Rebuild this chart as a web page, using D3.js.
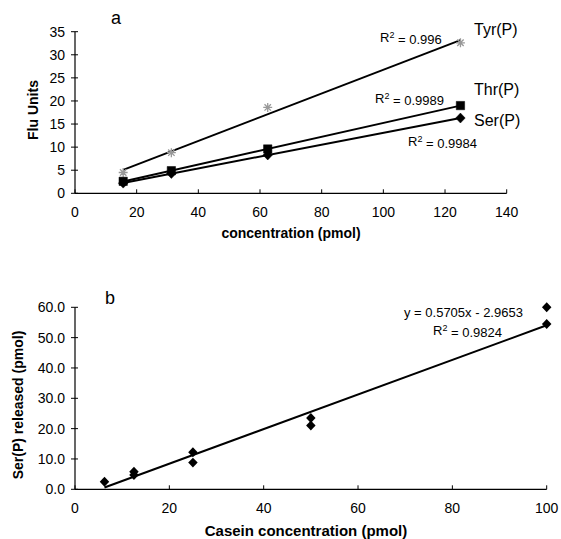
<!DOCTYPE html>
<html><head><meta charset="utf-8">
<script src="https://cdn.jsdelivr.net/npm/d3@7"></script>
<style>body{margin:0;background:#fff}svg{display:block;font-family:"Liberation Sans",Arial,sans-serif}</style>
</head><body><svg id="c" width="561" height="539"></svg>
<script>
// ---- Panel a data ----
const concA = [15.625, 31.25, 62.5, 125];
const tyrP = [4.5, 8.8, 18.6, 32.6];
const thrP = [2.6, 4.9, 9.6, 19.0];
const serP = [2.2, 4.3, 8.3, 16.3];
const xTicksA = [0, 20, 40, 60, 80, 100, 120, 140];
const yTicksA = [0, 5, 10, 15, 20, 25, 30, 35];
// ---- Panel b data ----
const caseinX = [6.25, 12.5, 12.5, 25, 25, 50, 50, 100, 100];
const serReleased = [2.5, 5.8, 4.7, 12.2, 8.8, 23.5, 21.0, 60.0, 54.5];
const fitB = [0.5705, -2.9653];
const xTicksB = [0, 20, 40, 60, 80, 100];
const yTicksB = [0, 10, 20, 30, 40, 50, 60];

const svg = d3.select("#c");

function linreg(xs, ys){
  const mx = d3.mean(xs), my = d3.mean(ys);
  let sxy = 0, sxx = 0;
  xs.forEach((x,i)=>{sxy += (x-mx)*(ys[i]-my); sxx += (x-mx)*(x-mx);});
  const m = sxy/sxx; return [m, my - m*mx];
}

// wide diamond symbol
const diamondW = {draw(ctx, size){ const r = Math.sqrt(size)/2; ctx.moveTo(0,-r*1.05); ctx.lineTo(r,0); ctx.lineTo(0,r*1.05); ctx.lineTo(-r,0); ctx.closePath(); }};
// asterisk symbol (stroke only)
const asterisk = {draw(ctx, size){ const r = Math.sqrt(size)/2; const d = r*0.72;
  ctx.moveTo(-r,0); ctx.lineTo(r,0); ctx.moveTo(0,-r); ctx.lineTo(0,r);
  ctx.moveTo(-d,-d); ctx.lineTo(d,d); ctx.moveTo(-d,d); ctx.lineTo(d,-d); }};

function axes(g, x, y, xt, yt, yfmt){
  const [x0,x1] = x.range(), [y0,y1] = y.range();
  g.append("line").attr("x1",x0).attr("x2",x1).attr("y1",y0).attr("y2",y0).attr("stroke","#000").attr("stroke-width",1.2);
  g.selectAll(null).data(xt).join("line").attr("x1",d=>x(d)).attr("x2",d=>x(d)).attr("y1",y0).attr("y2",y0-4).attr("stroke","#000");
  g.selectAll(null).data(xt).join("text").attr("x",d=>x(d)).attr("y",y0+24).attr("text-anchor","middle")
    .attr("font-size",14).text(d=>d);
  g.append("line").attr("x1",x0).attr("x2",x0).attr("y1",y0).attr("y2",y1).attr("stroke","#000").attr("stroke-width",1.2);
  g.selectAll(null).data(yt).join("line").attr("x1",x0-4).attr("x2",x0+3).attr("y1",d=>y(d)).attr("y2",d=>y(d)).attr("stroke","#000");
  g.selectAll(null).data(yt).join("text").attr("x",x0-10).attr("y",d=>y(d)).attr("dy","0.35em").attr("text-anchor","end")
    .attr("font-size",14).text(yfmt);
}

// ---- Panel a ----
const xa = d3.scaleLinear().domain([0,140]).range([75, 506.7]);
const ya = d3.scaleLinear().domain([0,35]).range([193.3, 31.7]);
const ga = svg.append("g");
axes(ga, xa, ya, xTicksA, yTicksA, d=>d);

const seriesA = [
  {name:"Tyr(P)", v:tyrP, shape:asterisk, size:80, fill:"none", stroke:"#999", sw:1.3},
  {name:"Thr(P)", v:thrP, shape:d3.symbolSquare, size:70, fill:"#000", stroke:"#000", sw:0.5},
  {name:"Ser(P)", v:serP, shape:diamondW, size:90, fill:"#000", stroke:"#000", sw:0.5}
];
seriesA.forEach(s=>{
  const [m,b] = linreg(concA, s.v);
  const xs = [concA[0], concA[concA.length-1]];
  ga.append("line").attr("x1",xa(xs[0])).attr("y1",ya(m*xs[0]+b)).attr("x2",xa(xs[1])).attr("y2",ya(m*xs[1]+b))
    .attr("stroke","#000").attr("stroke-width",2);
  ga.selectAll(null).data(concA).join("path")
    .attr("transform",(d,i)=>`translate(${xa(d)},${ya(s.v[i])})`)
    .attr("d", d3.symbol().type(s.shape).size(s.size))
    .attr("fill", s.fill).attr("stroke", s.stroke).attr("stroke-width", s.sw);
});

function r2(g, x, y, val){
  const t = g.append("text").attr("x",x).attr("y",y).attr("dy","0.35em").attr("font-size",13);
  t.append("tspan").text("R");
  t.append("tspan").attr("dy","-0.45em").attr("font-size",9).text("2");
  t.append("tspan").attr("dy","0.45em").text(" = " + val);
}
r2(ga, 380, 37.3, "0.996");
r2(ga, 375, 98.3, "0.9989");
r2(ga, 408, 141.7, "0.9984");
ga.append("text").attr("x",474).attr("y",29.3).attr("dy","0.35em").attr("font-size",16).text("Tyr(P)");
ga.append("text").attr("x",474).attr("y",89.3).attr("dy","0.35em").attr("font-size",16).text("Thr(P)");
ga.append("text").attr("x",474).attr("y",120).attr("dy","0.35em").attr("font-size",16).text("Ser(P)");
ga.append("text").attr("x",116).attr("y",18).attr("dy","0.35em").attr("text-anchor","middle").attr("font-size",18).text("a");
ga.append("text").attr("x",291).attr("y",233).attr("dy","0.35em").attr("text-anchor","middle").attr("font-size",14).attr("font-weight","bold").text("concentration (pmol)");
ga.append("text").attr("transform","translate(33,110) rotate(-90)").attr("dy","0.35em").attr("text-anchor","middle").attr("font-size",14).attr("font-weight","bold").text("Flu Units");

// ---- Panel b ----
const xb = d3.scaleLinear().domain([0,100]).range([75, 546.7]);
const yb = d3.scaleLinear().domain([0,60]).range([489.3, 307.3]);
const gb = svg.append("g");
axes(gb, xb, yb, xTicksB, yTicksB, d3.format(".1f"));
const fx = [d3.min(caseinX), d3.max(caseinX)];
gb.append("line").attr("x1",xb(fx[0])).attr("y1",yb(fitB[0]*fx[0]+fitB[1])).attr("x2",xb(fx[1])).attr("y2",yb(fitB[0]*fx[1]+fitB[1]))
  .attr("stroke","#000").attr("stroke-width",2);
gb.selectAll(null).data(caseinX).join("path")
  .attr("transform",(d,i)=>`translate(${xb(d)},${yb(serReleased[i])})`)
  .attr("d", d3.symbol().type(diamondW).size(90)).attr("fill","#000");
gb.append("text").attr("x",404).attr("y",312.3).attr("dy","0.35em").attr("font-size",13).text("y = 0.5705x - 2.9653");
r2(gb, 433, 330.7, "0.9824");
gb.append("text").attr("x",110).attr("y",298).attr("dy","0.35em").attr("text-anchor","middle").attr("font-size",18).text("b");
gb.append("text").attr("x",306).attr("y",531).attr("dy","0.35em").attr("text-anchor","middle").attr("font-size",15).attr("font-weight","bold").text("Casein concentration (pmol)");
gb.append("text").attr("transform","translate(18,405) rotate(-90)").attr("dy","0.35em").attr("text-anchor","middle").attr("font-size",14).attr("font-weight","bold").text("Ser(P) released (pmol)");
</script></body></html>
